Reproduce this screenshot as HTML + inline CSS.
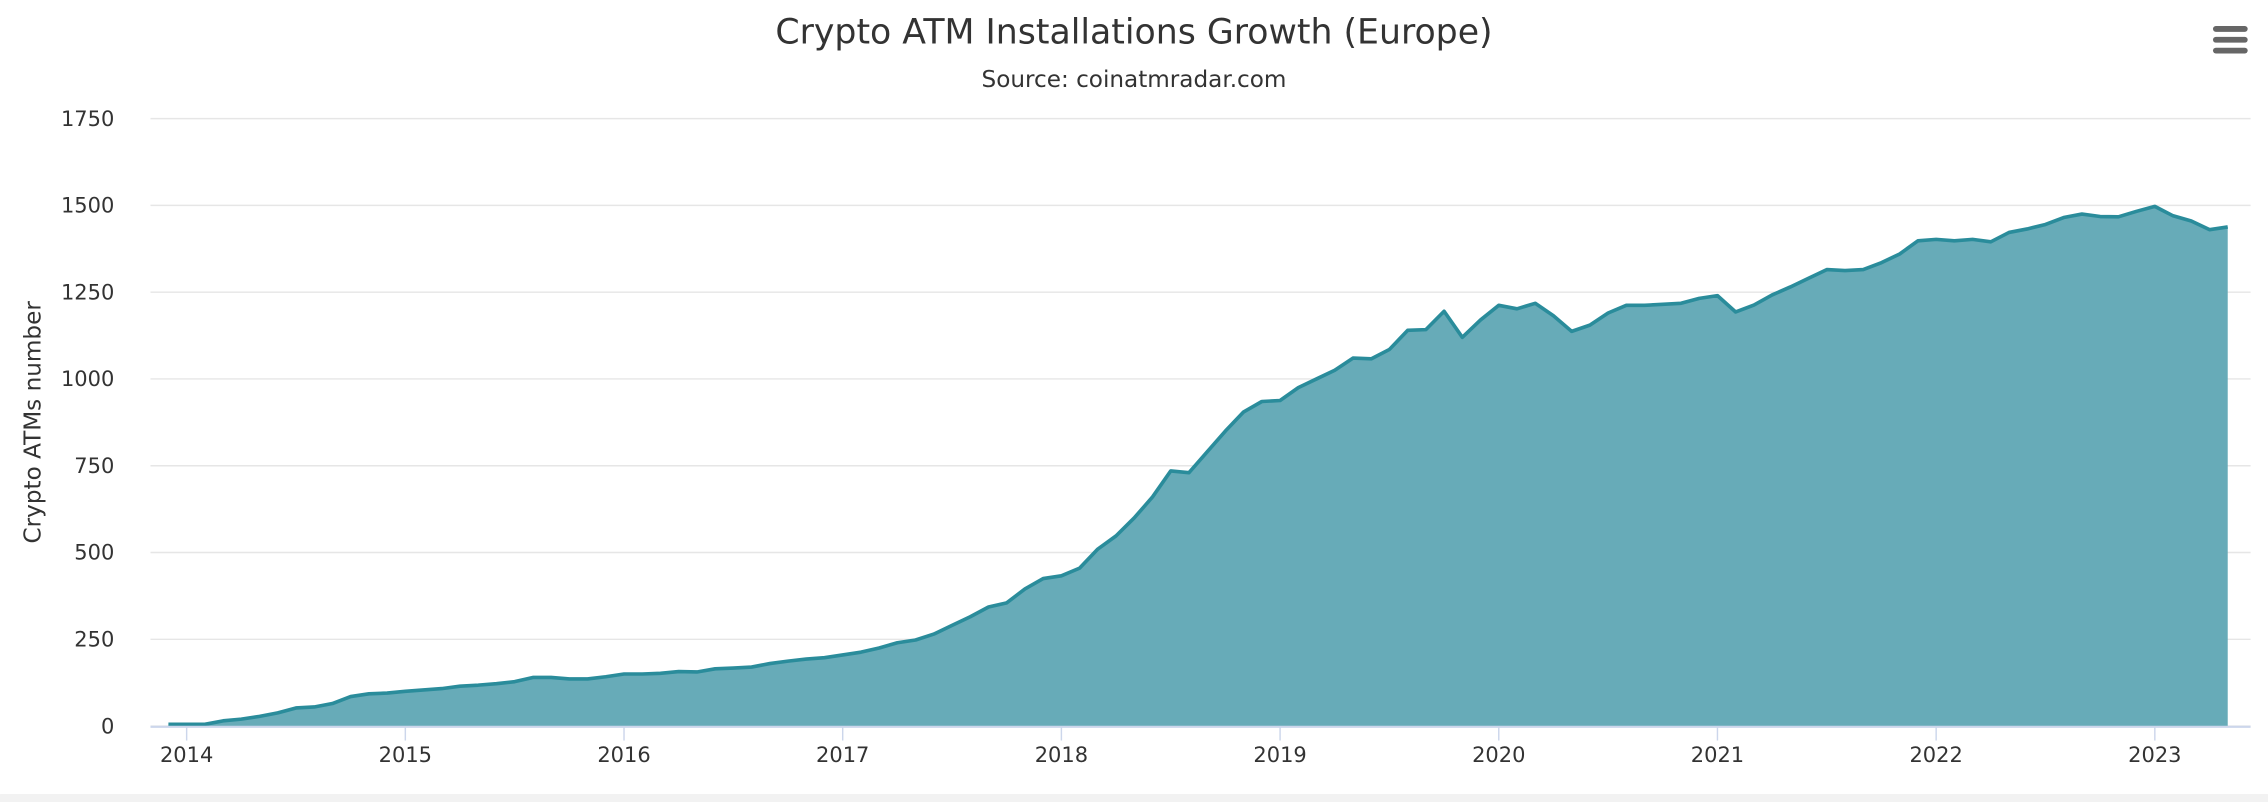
<!DOCTYPE html>
<html><head><meta charset="utf-8"><style>
html,body{margin:0;padding:0;background:#fff;}
svg{display:block;font-family:"DejaVu Sans","Liberation Sans",sans-serif;}
</style></head><body>
<svg id="chart" width="2268" height="802" viewBox="0 0 1568 554.5" xmlns="http://www.w3.org/2000/svg">
<rect x="0" y="0" width="1568" height="554.5" fill="#fff"/>
<rect x="0" y="549" width="1568" height="6" fill="#f2f2f2"/>
<text x="784" y="30" text-anchor="middle" font-size="24" fill="#333">Crypto ATM Installations Growth (Europe)</text>
<text x="784" y="60" text-anchor="middle" font-size="16" fill="#333">Source: coinatmradar.com</text>
<g>
<rect x="1530" y="18" width="24" height="4" rx="2" fill="#666"/>
<rect x="1530" y="25.5" width="24" height="4" rx="2" fill="#666"/>
<rect x="1530" y="33" width="24" height="4" rx="2" fill="#666"/>
</g>
<text transform="translate(28,292) rotate(-90)" text-anchor="middle" font-size="16" fill="#333">Crypto ATMs number</text>
<g id="grid"></g><g id="ylabels"></g><g id="series"></g><g id="xaxis"></g>
</svg>
<script>
const yTicks = [0,250,500,750,1000,1250,1500,1750];
const xTickYears = [2014,2015,2016,2017,2018,2019,2020,2021,2022,2023];
const startYear = 2013, startMonth = 11; // Dec 2013 (0-based month)
const values = [5,
5,5,15,20,28,38,52,55,65,85,93,95,
100,104,108,115,118,122,128,140,140,136,136,142,
150,150,152,157,156,165,167,170,180,187,193,197,
205,213,225,240,248,265,290,315,343,355,395,425,
433,455,510,548,600,660,735,730,790,850,905,935,
938,975,1000,1025,1060,1058,1085,1140,1142,1195,1120,1170,
1212,1202,1218,1182,1137,1155,1190,1212,1212,1215,1218,1232,
1240,1193,1213,1242,1265,1290,1315,1312,1315,1335,1360,1398,
1402,1398,1402,1395,1422,1432,1445,1465,1475,1468,1467,1483,
1497,1470,1455,1430,1438];
const NS="http://www.w3.org/2000/svg";
const plotL=104, plotR=1556, y0=502, y1750=82;
function yScale(v){return y0-(v/1750)*(y0-y1750);}
function xScale(monthsSince2014){return 129+monthsSince2014*(151.2/12);}
function idxMonths(i){return (startYear-2014)*12+startMonth+i;}
function mk(t,a,p){const e=document.createElementNS(NS,t);for(const k in a)e.setAttribute(k,a[k]);p.appendChild(e);return e;}
const grid=document.getElementById('grid'), yl=document.getElementById('ylabels');
yTicks.forEach(v=>{
  const l=mk('line',{x1:plotL,x2:plotR,y1:yScale(v),y2:yScale(v),stroke:'#e6e6e6','stroke-width':1},grid);
  
  
  const t=mk('text',{x:79,y:yScale(v)+5,'text-anchor':'end','font-size':14.5,fill:'#333'},yl);
  t.textContent=v;
  
  
});
const ser=document.getElementById('series');
let pts=values.map((v,i)=>[xScale(idxMonths(i)),yScale(v)]);
let d='M'+pts.map(p=>p[0].toFixed(1)+','+p[1].toFixed(1)).join('L');
const area=mk('path',{d:d+'L'+pts[pts.length-1][0].toFixed(1)+','+y0+'L'+pts[0][0].toFixed(1)+','+y0+'Z',fill:'#67abb8'},ser);


const line=mk('path',{d:d,fill:'none',stroke:'#2a8c9b','stroke-width':2.5,'stroke-linejoin':'round'},ser);


const xa=document.getElementById('xaxis');
const ax=mk('line',{x1:plotL,x2:plotR,y1:y0+0.5,y2:y0+0.5,stroke:'#ccd6eb','stroke-width':1.5},xa);


xTickYears.forEach(yr=>{
  const x=xScale((yr-2014)*12);
  const tk=mk('line',{x1:x,x2:x,y1:y0,y2:y0+10,stroke:'#ccd6eb','stroke-width':1},xa);
  
  
  const t=mk('text',{x:x,y:y0+25,'text-anchor':'middle','font-size':14.5,fill:'#333'},xa);
  t.textContent=yr;
  
  
});
</script>
</body></html>
